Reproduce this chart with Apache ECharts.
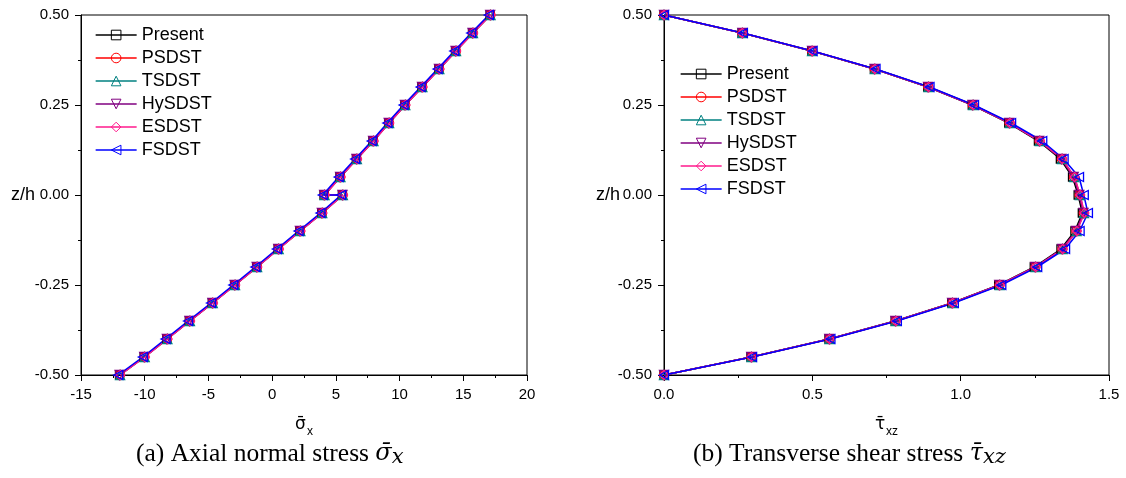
<!DOCTYPE html>
<html><head><meta charset="utf-8">
<script src="https://cdn.jsdelivr.net/npm/echarts@6/dist/echarts.min.js"></script>
<style>html,body{margin:0;padding:0;background:#fff}#c{width:1126px;height:478px}</style>
</head><body><div id="c"></div>
<script>
const seriesNames = ['Present', 'PSDST', 'TSDST', 'HySDST', 'ESDST', 'FSDST'];
const seriesColors = ['#000000', '#ff0000', '#008080', '#800080', '#ff1a8c', '#0000ff'];
const seriesSymbols = ['rect', 'circle', 'triangle', 'triangle', 'diamond', 'triangle'];
const seriesRotate = [0, 0, 0, 180, 0, 90];

// z/h levels for the axial stress (two values at the interface z = 0)
const zSigma = [-0.5, -0.45, -0.4, -0.35, -0.3, -0.25, -0.2, -0.15, -0.1, -0.05, 0, 0, 0.05, 0.1, 0.15, 0.2, 0.25, 0.3, 0.35, 0.4, 0.45, 0.5];
const sigmaPresent = [-11.98, -10.05, -8.27, -6.50, -4.70, -2.95, -1.22, 0.47, 2.17, 3.89, 5.51, 4.07, 5.32, 6.61, 7.91, 9.14, 10.41, 11.75, 13.08, 14.39, 15.72, 17.10];
const sigmaPSDST   = [-11.95, -10.02, -8.24, -6.47, -4.67, -2.92, -1.19, 0.50, 2.20, 3.92, 5.54, 4.10, 5.35, 6.64, 7.94, 9.17, 10.44, 11.78, 13.11, 14.42, 15.75, 17.13];
const sigmaTSDST   = [-11.93, -10.00, -8.22, -6.45, -4.66, -2.91, -1.18, 0.51, 2.21, 3.93, 5.55, 4.11, 5.36, 6.65, 7.95, 9.18, 10.45, 11.79, 13.12, 14.43, 15.76, 17.14];
const sigmaHySDST  = [-11.97, -10.04, -8.26, -6.49, -4.69, -2.94, -1.21, 0.48, 2.18, 3.90, 5.52, 4.08, 5.33, 6.62, 7.92, 9.15, 10.42, 11.76, 13.09, 14.40, 15.73, 17.11];
const sigmaESDST   = [-11.92, -9.99, -8.21, -6.44, -4.65, -2.90, -1.17, 0.52, 2.22, 3.94, 5.56, 4.12, 5.37, 6.66, 7.96, 9.19, 10.46, 11.80, 13.13, 14.44, 15.77, 17.15];
const sigmaFSDST   = [-12.08, -10.15, -8.37, -6.60, -4.80, -3.05, -1.32, 0.37, 2.07, 3.79, 5.41, 3.97, 5.22, 6.51, 7.81, 9.04, 10.31, 11.65, 12.98, 14.29, 15.62, 17.00];

// z/h levels for the transverse shear stress
const zTau = [-0.5, -0.45, -0.4, -0.35, -0.3, -0.25, -0.2, -0.15, -0.1, -0.05, 0, 0.05, 0.1, 0.15, 0.2, 0.25, 0.3, 0.35, 0.4, 0.45, 0.5];
const tauPresent = [0, 0.293, 0.556, 0.779, 0.970, 1.128, 1.248, 1.338, 1.385, 1.410, 1.396, 1.377, 1.336, 1.262, 1.162, 1.039, 0.889, 0.709, 0.498, 0.263, 0];
const tauPSDST   = [0, 0.295, 0.558, 0.781, 0.972, 1.131, 1.252, 1.343, 1.390, 1.415, 1.401, 1.382, 1.341, 1.266, 1.165, 1.041, 0.891, 0.710, 0.499, 0.264, 0];
const tauTSDST   = [0, 0.295, 0.558, 0.781, 0.973, 1.132, 1.253, 1.344, 1.391, 1.416, 1.402, 1.383, 1.342, 1.267, 1.166, 1.042, 0.892, 0.711, 0.499, 0.264, 0];
const tauHySDST  = [0, 0.294, 0.557, 0.780, 0.971, 1.130, 1.251, 1.342, 1.389, 1.414, 1.400, 1.381, 1.340, 1.265, 1.164, 1.040, 0.890, 0.710, 0.499, 0.264, 0];
const tauESDST   = [0, 0.295, 0.558, 0.782, 0.973, 1.132, 1.253, 1.344, 1.392, 1.417, 1.403, 1.384, 1.342, 1.267, 1.166, 1.042, 0.892, 0.711, 0.500, 0.264, 0];
const tauFSDST   = [0, 0.297, 0.561, 0.785, 0.977, 1.137, 1.258, 1.352, 1.401, 1.429, 1.415, 1.399, 1.347, 1.275, 1.170, 1.045, 0.895, 0.713, 0.501, 0.266, 0];

const sigmaSets = [sigmaPresent, sigmaPSDST, sigmaTSDST, sigmaHySDST, sigmaESDST, sigmaFSDST];
const tauSets = [tauPresent, tauPSDST, tauTSDST, tauHySDST, tauESDST, tauFSDST];

const SANS = 'Liberation Sans';
const SERIF = 'Liberation Serif';

function makeSeries(values, zs, gridIdx) {
  return values.map((vals, i) => ({
    name: seriesNames[i],
    type: 'line',
    xAxisIndex: gridIdx,
    yAxisIndex: gridIdx,
    data: vals.map((v, k) => [v, zs[k]]),
    symbol: seriesSymbols[i],
    symbolRotate: seriesRotate[i],
    symbolSize: i === 0 ? 8 : 9,
    showAllSymbol: true,
    animation: false,
    lineStyle: { color: seriesColors[i], width: 1.5 },
    itemStyle: { color: 'rgba(255,255,255,0)', borderColor: seriesColors[i], borderWidth: 1.3 },
    emphasis: { disabled: true }
  }));
}

function yAxisDef(gridIdx, gap) {
  return {
    type: 'value', gridIndex: gridIdx, min: -0.5, max: 0.5, interval: 0.25,
    name: 'z/h', nameLocation: 'middle', nameRotate: 0, nameGap: gap, nameMoveOverlap: false,
    nameTextStyle: { fontFamily: SANS, fontSize: 18, color: '#000' },
    axisLine: { show: true, onZero: false, lineStyle: { color: '#000', width: 1 } },
    axisTick: { show: true, inside: false, length: 6, lineStyle: { color: '#000' } },
    minorTick: { show: true, splitNumber: 2, length: 3, lineStyle: { color: '#000' } },
    axisLabel: { fontFamily: SANS, fontSize: 15, color: '#000', margin: 12, formatter: v => v.toFixed(2) },
    splitLine: { show: false }
  };
}

function xAxisDef(gridIdx, min, max, interval, digits, name, rich) {
  return {
    type: 'value', gridIndex: gridIdx, min: min, max: max, interval: interval,
    name: name, nameLocation: 'middle', nameGap: 41, nameMoveOverlap: false,
    nameTextStyle: { fontFamily: SANS, fontSize: 18, color: '#000', rich: rich },
    axisLine: { show: true, onZero: false, lineStyle: { color: '#000', width: 1 } },
    axisTick: { show: true, inside: false, length: 6, lineStyle: { color: '#000' } },
    minorTick: { show: true, splitNumber: 2, length: 3, lineStyle: { color: '#000' } },
    axisLabel: { fontFamily: SANS, fontSize: 15, color: '#000', margin: 12, formatter: v => v.toFixed(digits) },
    splitLine: { show: false }
  };
}

const nameRich = {
  s: { fontFamily: 'DejaVu Sans', fontSize: 17, color: '#000', verticalAlign: 'top' },
  sub: { fontFamily: SANS, fontSize: 12, color: '#000', padding: [10, 0, 0, 1] }
};

const capRich = {
  m: { fontFamily: 'DejaVu Serif', fontSize: 24, fontStyle: 'italic', color: '#000' },
  sub: { fontFamily: 'DejaVu Serif', fontSize: 21, fontStyle: 'italic', color: '#000', padding: [7, 0, 0, 0] }
};

const legendCommon = {
  orient: 'vertical',
  data: seriesNames,
  padding: 0,
  itemWidth: 41, itemHeight: 12, itemGap: 5,
  itemStyle: { color: 'rgba(255,255,255,0)', borderWidth: 1 },
  lineStyle: { width: 1.3 },
  textStyle: { fontFamily: SANS, fontSize: 18, lineHeight: 18, color: '#000', padding: [0, 0, 0, 0] },
  selectedMode: false
};

const chart = echarts.init(document.getElementById('c'), null, { renderer: 'canvas' });
chart.setOption({
  backgroundColor: '#fff',
  animation: false,
  grid: [
    { left: 81, top: 15, width: 446, height: 360, show: true, borderColor: '#000', borderWidth: 1, backgroundColor: 'transparent' },
    { left: 664, top: 15, width: 445, height: 360, show: true, borderColor: '#000', borderWidth: 1, backgroundColor: 'transparent' }
  ],
  xAxis: [
    xAxisDef(0, -15, 20, 5, 0, '{s|σ̄}{sub|x}', nameRich),
    xAxisDef(1, 0, 1.5, 0.5, 1, '{s|τ̄}{sub|xz}', nameRich)
  ],
  yAxis: [yAxisDef(0, 46), yAxisDef(1, 44)],
  legend: [
    Object.assign({ left: 95, top: 26 }, legendCommon),
    Object.assign({ left: 680, top: 65 }, legendCommon)
  ],
  title: [
    { text: '(a) Axial normal stress {m|σ̄}{sub|x}', left: 136, top: 440, padding: 0,
      textStyle: { fontFamily: SERIF, fontSize: 25.5, fontWeight: 'normal', color: '#000', rich: capRich } },
    { text: '(b) Transverse shear stress {m|τ̄}{sub|xz}', left: 693, top: 440, padding: 0,
      textStyle: { fontFamily: SERIF, fontSize: 25.5, fontWeight: 'normal', color: '#000', rich: capRich } }
  ],
  series: makeSeries(sigmaSets, zSigma, 0).concat(makeSeries(tauSets, zTau, 1))
});
</script>
</body></html>
